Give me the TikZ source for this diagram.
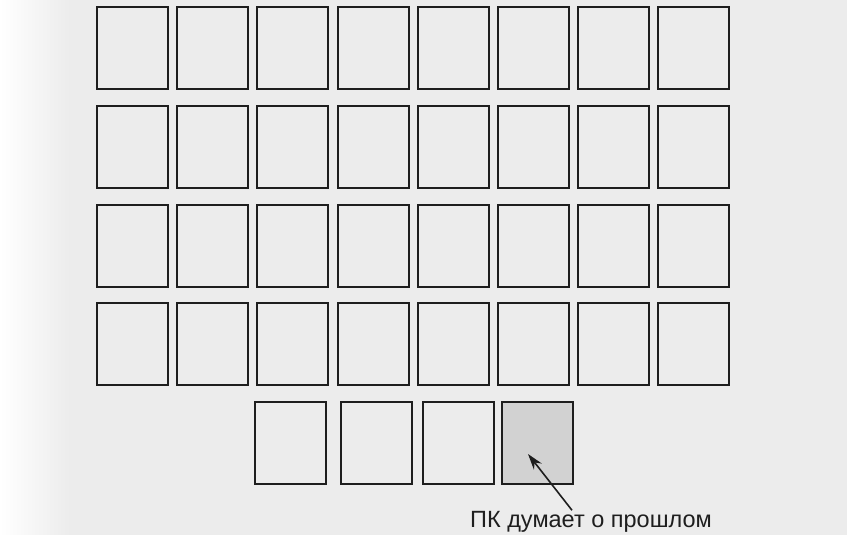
\documentclass[tikz,border=0pt]{standalone}
\usepackage{fontspec}
\setsansfont{Liberation Sans}
\usetikzlibrary{calc, arrows.meta, positioning}
\definecolor{pagegray}{HTML}{ECECEC}
\definecolor{inkgray}{HTML}{1E1E1E}
\definecolor{pastgray}{HTML}{D2D2D2}

\begin{document}
\begin{tikzpicture}[
  x=1pt, y=-1pt,
  card/.style={
    rectangle, draw=inkgray, line width=2pt,
    minimum width=71pt, minimum height=82pt,
    inner sep=0pt},
  shaded/.style={card, fill=pastgray},
  caption/.style={
    font=\sffamily\fontsize{23.5}{26}\selectfont,
    text=inkgray, inner sep=0pt},
  ptr/.style={-{Stealth[length=16pt, width=10pt]}, line width=1.6pt, draw=inkgray},
]

  % ── Page ────────────────────────────────────────────────────────────────
  \useasboundingbox (0,0) rectangle (847,535);
  \fill[pagegray] (0,0) rectangle (847,535);
  \fill[left color=white, right color=pagegray] (0,0) rectangle (70,535);

  % ── Four full rows of eight cards ───────────────────────────────────────
  \foreach \r in {1,...,4} {
    \foreach \c in {1,...,8} {
      \node[card] (card-\r-\c)
        at ({132.5 + (\c-1)*80.2}, {48.5 + (\r-1)*98.5}) {};
    }
  }

  % ── Last row: four cards, the last one shaded ───────────────────────────
  \foreach \c/\x in {3/290, 4/376.5, 5/458} {
    \node[card] (card-5-\c) at (\x, 442.5) {};
  }
  \node[shaded] (past) at (537, 442.5) {};

  % ── Caption and pointer ─────────────────────────────────────────────────
  \node[caption] (pcnote) at (591, 522) {ПК думает о прошлом};
  \coordinate (gaze) at ($(past.center) + (-9, 11.5)$);
  \coordinate (tail) at ($(pcnote.north) + (-19, -1)$);
  \draw[ptr] (tail) -- (gaze);

\end{tikzpicture}
\end{document}
